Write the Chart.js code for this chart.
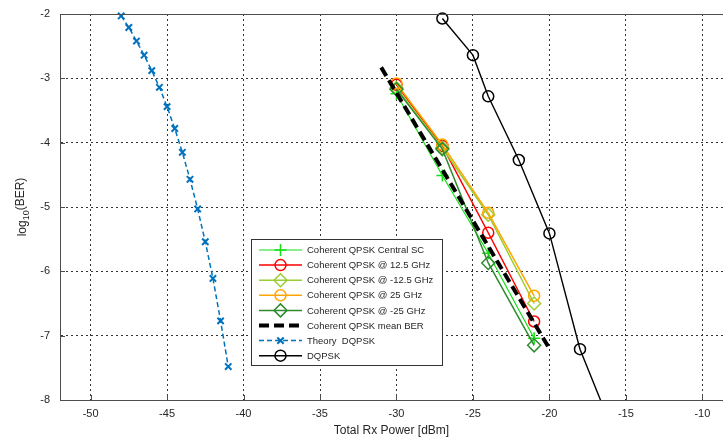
<!DOCTYPE html>
<html>
<head>
<meta charset="utf-8">
<script src="https://cdn.jsdelivr.net/npm/chart.js@4.4.1/dist/chart.umd.min.js"></script>
<style>
  body { margin: 0; background: #fff; }
  #wrap { width: 723px; height: 439px; }
</style>
</head>
<body>
<div id="wrap"><canvas id="berChart" width="723" height="439"></canvas></div>
<script>
// Values
const xTicks = [-50, -45, -40, -35, -30, -25, -20, -15, -10];
const yTicks = [-8, -7, -6, -5, -4, -3, -2];

const cohPower = [-30, -27, -24, -21];
const centralSC = [-3.24, -4.51, -5.72, -7.04];
const plus12 = [-3.10, -4.05, -5.40, -6.78];
const minus12 = [-3.15, -4.08, -5.12, -6.50];
const plus25 = [-3.08, -4.03, -5.09, -6.38];
const minus25 = [-3.17, -4.10, -5.87, -7.15];

const meanPower = [-31, -20];
const meanBer = [-2.83, -7.20];

const theoryPower = [-48, -47.5, -47, -46.5, -46, -45.5, -45, -44.5, -44, -43.5, -43, -42.5, -42, -41.5, -41];
const theoryBer = [-2.03, -2.21, -2.42, -2.64, -2.88, -3.14, -3.44, -3.78, -4.15, -4.57, -5.03, -5.54, -6.11, -6.77, -7.48];

const dqpskPower = [-27, -25, -24, -22, -20, -18, -16];
const dqpskBer = [-2.07, -2.64, -3.28, -4.27, -5.41, -7.21, -8.39];

function pts(xs, ys) {
  return xs.map((x, i) => ({ x: x, y: ys[i] }));
}

// one entry per legend row, same order as the original
const series = [
  { label: 'Coherent QPSK Central SC', data: pts(cohPower, centralSC), color: '#14e014', marker: 'cross', r: 6, width: 1.2 },
  { label: 'Coherent QPSK @ 12.5 GHz', data: pts(cohPower, plus12), color: '#ff0000', marker: 'circle', r: 5.5, width: 1.5 },
  { label: 'Coherent QPSK @ -12.5 GHz', data: pts(cohPower, minus12), color: '#9acd32', marker: 'rectRot', r: 6.5, width: 1.5 },
  { label: 'Coherent QPSK @ 25 GHz', data: pts(cohPower, plus25), color: '#ffa500', marker: 'circle', r: 5.5, width: 1.5 },
  { label: 'Coherent QPSK @ -25 GHz', data: pts(cohPower, minus25), color: '#2e8b2e', marker: 'rectRot', r: 6.5, width: 1.5 },
  { label: 'Coherent QPSK mean BER', data: pts(meanPower, meanBer), color: '#000000', marker: false, r: 0, width: 4, dash: [10, 5] },
  { label: 'Theory  DQPSK', data: pts(theoryPower, theoryBer), color: '#0072bd', marker: 'crossRot', r: 4.5, width: 1.5, dash: [5, 3] },
  { label: 'DQPSK', data: pts(dqpskPower, dqpskBer), color: '#000000', marker: 'circle', r: 5.5, width: 1.4 }
];

const datasets = series.map((s, i) => ({
  label: s.label,
  data: s.data,
  borderColor: s.color,
  backgroundColor: s.color,
  borderWidth: s.width,
  borderDash: s.dash || [],
  pointStyle: s.marker,
  pointRadius: s.r,
  pointBorderColor: s.color,
  pointBackgroundColor: 'rgba(0,0,0,0)',
  pointBorderWidth: s.marker === 'crossRot' ? 2 : 1.5,
  tension: 0,
  order: -i, // later series drawn on top, like matlab
  clip: s.label === 'DQPSK' ? { left: 8, top: 8, right: 8, bottom: 0 } : 8
}));

// small marker painter for the legend
function drawMarker(ctx, style, x, y, r) {
  if (!style) return;
  ctx.beginPath();
  if (style === 'circle') {
    ctx.arc(x, y, r, 0, Math.PI * 2);
  } else if (style === 'cross') {
    ctx.moveTo(x - r, y); ctx.lineTo(x + r, y);
    ctx.moveTo(x, y - r); ctx.lineTo(x, y + r);
  } else if (style === 'crossRot') {
    const d = r * Math.SQRT1_2;
    ctx.moveTo(x - d, y - d); ctx.lineTo(x + d, y + d);
    ctx.moveTo(x - d, y + d); ctx.lineTo(x + d, y - d);
  } else if (style === 'rectRot') {
    ctx.moveTo(x, y - r); ctx.lineTo(x + r, y);
    ctx.lineTo(x, y + r); ctx.lineTo(x - r, y); ctx.closePath();
  }
  ctx.stroke();
}

const matlabFrame = {
  id: 'matlabFrame',
  afterDraw(chart) {
    const ctx = chart.ctx;
    const a = chart.chartArea;
    const xs = chart.scales.x;
    const ys = chart.scales.y;

    ctx.save();
    // top box line and small inward ticks
    ctx.strokeStyle = '#4d4d4d';
    ctx.lineWidth = 1;
    ctx.beginPath();
    ctx.moveTo(a.left, a.top + 0.5);
    ctx.lineTo(a.right, a.top + 0.5);
    yTicks.forEach(v => {
      const py = Math.round(ys.getPixelForValue(v)) + 0.5;
      ctx.moveTo(a.left, py); ctx.lineTo(a.left + 5, py);
    });
    xTicks.forEach(v => {
      const px = Math.round(xs.getPixelForValue(v)) + 0.5;
      ctx.moveTo(px, a.bottom); ctx.lineTo(px, a.bottom - 5);
    });
    ctx.stroke();

    // y title with subscript
    ctx.fillStyle = '#262626';
    ctx.translate(23, (a.top + a.bottom) / 2);
    ctx.rotate(-Math.PI / 2);
    ctx.textBaseline = 'middle';
    ctx.font = '12px "Liberation Sans", Arial, sans-serif';
    const w1 = ctx.measureText('log').width;
    const w3 = ctx.measureText('(BER)').width;
    ctx.font = '9px "Liberation Sans", Arial, sans-serif';
    const w2 = ctx.measureText('10').width;
    let tx = -(w1 + w2 + w3) / 2;
    ctx.font = '12px "Liberation Sans", Arial, sans-serif';
    ctx.fillText('log', tx, 0);
    ctx.font = '9px "Liberation Sans", Arial, sans-serif';
    ctx.fillText('10', tx + w1, 4);
    ctx.font = '12px "Liberation Sans", Arial, sans-serif';
    ctx.fillText('(BER)', tx + w1 + w2, -2);
    ctx.restore();

    // legend box
    const box = { x: 251, y: 239, w: 191, h: 126 };
    ctx.save();
    ctx.fillStyle = '#ffffff';
    ctx.fillRect(box.x, box.y, box.w, box.h);
    ctx.strokeStyle = '#333333';
    ctx.lineWidth = 1;
    ctx.strokeRect(box.x + 0.5, box.y + 0.5, box.w, box.h);
    ctx.font = '9.5px "Liberation Sans", Arial, sans-serif';
    ctx.textBaseline = 'middle';
    series.forEach((s, i) => {
      const ly = box.y + 11 + i * 15.1;
      ctx.strokeStyle = s.color;
      ctx.lineWidth = s.width;
      ctx.setLineDash(s.dash || []);
      ctx.beginPath();
      ctx.moveTo(259, ly);
      ctx.lineTo(302, ly);
      ctx.stroke();
      ctx.setLineDash([]);
      ctx.lineWidth = s.marker === 'crossRot' ? 2 : 1.5;
      drawMarker(ctx, s.marker, 280.5, ly, s.r);
      ctx.fillStyle = '#262626';
      ctx.fillText(s.label, 307, ly + 0.5);
    });
    ctx.restore();
  }
};

const tickFont = { family: '"Liberation Sans", Arial, sans-serif', size: 11 };

new Chart(document.getElementById('berChart').getContext('2d'), {
  type: 'line',
  data: { datasets: datasets },
  options: {
    responsive: false,
    animation: false,
    layout: { autoPadding: false, padding: { top: 14, right: 0, left: 0, bottom: 0 } },
    plugins: {
      legend: { display: false },
      tooltip: { enabled: false }
    },
    scales: {
      x: {
        type: 'linear',
        min: -52,
        max: -8.65,
        afterBuildTicks: (scale) => { scale.ticks = xTicks.map(v => ({ value: v })); },
        afterFit: (scale) => {
          scale.height = 39;
          scale.paddingLeft = 0;
          scale.paddingRight = 0;
        },
        grid: { color: '#333333', lineWidth: 1, drawTicks: false },
        border: { display: true, color: '#4d4d4d', width: 1, dash: [2, 3] },
        ticks: { color: '#262626', font: tickFont, padding: 7, maxRotation: 0 },
        title: {
          display: true,
          text: 'Total Rx Power [dBm]',
          color: '#262626',
          font: { family: '"Liberation Sans", Arial, sans-serif', size: 12 },
          padding: { top: 0, bottom: 1 }
        }
      },
      y: {
        type: 'linear',
        min: -8,
        max: -2,
        afterBuildTicks: (scale) => { scale.ticks = yTicks.map(v => ({ value: v })); },
        afterFit: (scale) => {
          scale.width = 60;
          scale.paddingTop = 0;
          scale.paddingBottom = 0;
        },
        grid: { color: '#333333', lineWidth: 1, drawTicks: false },
        border: { display: true, color: '#4d4d4d', width: 1, dash: [2, 3] },
        ticks: { color: '#262626', font: tickFont, padding: 10 }
      }
    }
  },
  plugins: [matlabFrame]
});
</script>
</body>
</html>
